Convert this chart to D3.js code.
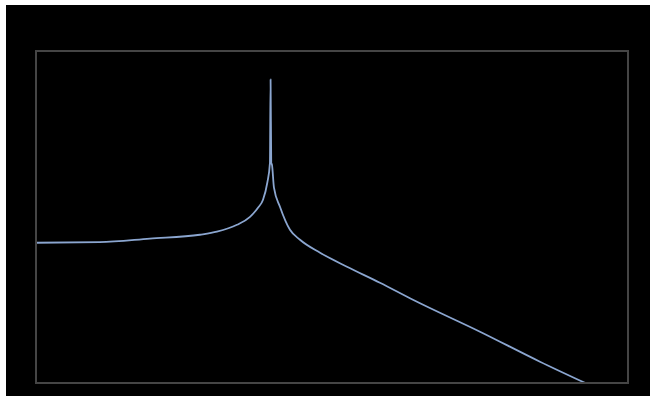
<!DOCTYPE html>
<html>
<head>
<meta charset="utf-8">
<style>
  body { margin: 0; background: #fff; }
</style>
</head>
<body>
<div id="chart-area"></div>
<script src="https://d3js.org/d3.v7.min.js"></script>
<script>
// frequency response (rad/s, dB)
const freq = [0.026, 0.07, 0.153, 0.333, 0.434, 0.593, 0.726, 0.822, 0.889, 0.95, 0.99,
  1.0, 1.01, 1.022, 1.054, 1.157, 1.352, 1.58, 2.16, 3.28, 5.48, 9.16, 26.0, 66.1, 133]
const magDb = [0, 0.3, 2.3, 4.5, 6.2, 10.1, 14.6, 19.7, 24.2, 33.8, 45,
  92, 45, 43.9, 31.0, 20.3, 7.3, 1.7, -5.6, -13.5, -22.5, -32.1, -50.1, -67.0, -78.9]

const freqDomain = [0.026, 260]
const dbDomain = [-79, 108]

const MARGIN = { LEFT: 36, RIGHT: 22, TOP: 51, BOTTOM: 13 }
const WIDTH = 650 - MARGIN.LEFT - MARGIN.RIGHT
const HEIGHT = 396 - MARGIN.TOP - MARGIN.BOTTOM

const svg = d3.select("#chart-area").append("svg")
  .attr("width", 650)
  .attr("height", 396)
  .style("display", "block")

// black panel
svg.append("rect")
  .attr("x", 6)
  .attr("y", 5)
  .attr("width", 644)
  .attr("height", 391)
  .attr("fill", "#000")

const g = svg.append("g")
  .attr("transform", `translate(${MARGIN.LEFT}, ${MARGIN.TOP})`)

// scales
const x = d3.scaleLog().domain(freqDomain).range([0, WIDTH])
const y = d3.scaleLinear().domain(dbDomain).range([HEIGHT, 0])

g.append("clipPath")
  .attr("id", "clip")
  .append("rect")
  .attr("width", WIDTH)
  .attr("height", HEIGHT)

const data = freq.map((f, i) => ({ f: f, db: magDb[i] }))

const line = d3.line()
  .x(d => x(d.f))
  .y(d => y(d.db))
  .curve(d3.curveMonotoneX)

g.append("path")
  .attr("clip-path", "url(#clip)")
  .attr("fill", "none")
  .attr("stroke", "#8ba6d0")
  .attr("stroke-width", 1.8)
  .attr("stroke-linejoin", "round")
  .attr("d", line(data))

// plot frame
g.append("rect")
  .attr("x", x.range()[0])
  .attr("y", y.range()[1])
  .attr("width", x.range()[1] - x.range()[0])
  .attr("height", y.range()[0] - y.range()[1])
  .attr("fill", "none")
  .attr("stroke", "#454545")
  .attr("stroke-width", 2)
</script>
</body>
</html>
